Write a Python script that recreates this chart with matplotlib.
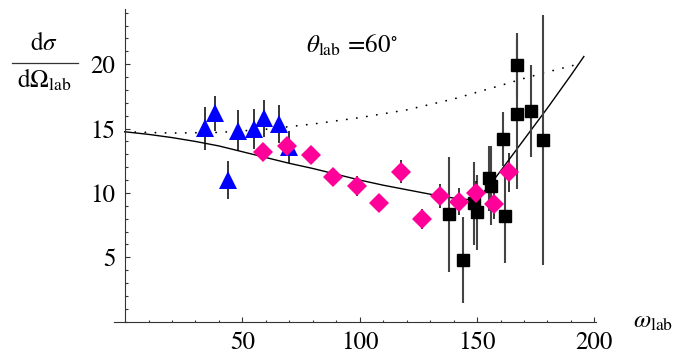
#!/usr/bin/python
# -*- encoding: utf-8 -*-
'''
Differential cross section at theta_lab = 60 deg, three data sets + two curves
'''

import numpy as np
import matplotlib
matplotlib.use('Agg')
import matplotlib.pyplot as plt
from matplotlib.lines import Line2D
from matplotlib.ticker import MultipleLocator, FixedLocator

#* Constants and settings
OUTPUT = 'out.png'
FIG_W, FIG_H = 678, 354
DPI = 100

X_RANGE = [-4.7, 200.5]
Y_RANGE = [0, 24.3]

#* Data
# full curve
omega_fit = [0, 10, 20, 30, 40, 50, 60, 70, 80, 90, 100, 110, 120, 130, 140,
             148, 152, 156, 160, 170, 180, 190, 195.5]
sigma_fit = [14.75, 14.55, 14.3, 14.0, 13.65, 13.2, 12.75, 12.3, 11.9, 11.45,
             11.0, 10.6, 10.25, 9.9, 9.6, 9.45, 9.9, 10.75, 11.7, 14.15, 16.6,
             19.15, 20.6]

# dotted curve
omega_dot = [0, 20, 40, 60, 80, 100, 120, 140, 160, 170, 180, 193]
sigma_dot = [14.75, 14.65, 14.7, 14.95, 15.35, 15.85, 16.45, 17.3, 18.35,
             18.9, 19.4, 20.0]

# blue triangles
tri_omega = [34.1, 38.3, 44.0, 48.3, 54.9, 59.2, 65.8, 70.0]
tri_sigma = [15.02, 16.18, 11.0, 14.83, 14.94, 15.8, 15.35, 13.6]
tri_err = [1.65, 1.35, 1.5, 1.6, 1.55, 1.45, 1.5, 1.25]

# magenta diamonds
dia_omega = [58.9, 69.2, 79.1, 88.8, 98.7, 108.4, 117.5, 126.4, 134.4,
             142.3, 149.6, 157.2, 163.6]
dia_sigma = [13.15, 13.67, 12.95, 11.26, 10.56, 9.24, 11.65, 7.95, 9.76,
             9.32, 9.97, 9.11, 11.6]
dia_err = [0.5, 0.5, 0.6, 0.65, 0.78, 0.7, 0.9, 0.78, 0.97, 1.03, 0.97,
           1.1, 1.5]

# black squares
sq_omega = [138.0, 144.2, 148.8, 149.8, 155.1, 156.0, 160.9, 161.9, 166.9,
            166.9, 172.8, 178.0]
sq_sigma = [8.34, 4.79, 9.19, 8.49, 11.13, 10.56, 14.19, 8.23, 19.94, 16.13,
            16.37, 14.11]
sq_err = [4.47, 3.37, 3.2, 2.93, 2.55, 3.05, 2.1, 3.7, 2.46, 5.85, 3.57, 9.7]

x_ticks = [50, 100, 150, 200]
y_ticks = [5, 10, 15, 20]


def px(x, y):
    '''pixel position (from top left) -> figure fraction'''
    return x / FIG_W, 1 - y / FIG_H


#* Plotting
def plot_cross_section():
    plt.rc('font', family='STIXGeneral', size=18)
    plt.rc('mathtext', fontset='stix')

    fig = plt.figure(figsize=(FIG_W / DPI, FIG_H / DPI), dpi=DPI)
    left, top = px(114, 8.9)
    right, bottom = px(595.6, 321.6)
    ax = fig.add_axes([left, bottom, right - left, top - bottom])

    # Mathematica style axes crossing at the origin
    for side in ['top', 'right']:
        ax.spines[side].set_visible(False)
    ax.spines['left'].set_position(('data', 0))
    ax.spines['bottom'].set_position(('data', 0))
    for side in ['left', 'bottom']:
        ax.spines[side].set_linewidth(0.8)
        ax.spines[side].set_color('#333333')

    ax.set_xlim(X_RANGE)
    ax.set_ylim(Y_RANGE)

    ax.xaxis.set_major_locator(FixedLocator(x_ticks))
    ax.yaxis.set_major_locator(FixedLocator(y_ticks))
    ax.xaxis.set_minor_locator(MultipleLocator(10))
    ax.yaxis.set_minor_locator(MultipleLocator(1))
    ax.tick_params(which='both', direction='in', color='#333333', width=0.8)
    ax.tick_params(which='major', length=3.6, pad=7)
    ax.tick_params(which='minor', length=1.8)
    ax.tick_params(axis='x', labelsize=18)
    ax.tick_params(axis='y', labelsize=18)

    # curves
    ax.plot(omega_fit, sigma_fit, color='black', lw=1.0, zorder=1)
    ax.plot(omega_dot, sigma_dot, color='black', lw=1.3,
            linestyle=(0, (0.1, 5.5)), dash_capstyle='round', zorder=1)

    # data
    ax.errorbar(sq_omega, sq_sigma, yerr=sq_err, fmt='s', color='black',
                ms=8.4, ecolor='#444444', elinewidth=1.5, capsize=0,
                zorder=2)
    ax.errorbar(tri_omega, tri_sigma, yerr=tri_err, fmt='^', color='#0000FF',
                ms=13.5, mew=0, ecolor='black', elinewidth=1.1, capsize=0,
                zorder=3)
    ax.errorbar(dia_omega, dia_sigma, yerr=dia_err, fmt='D', color='#FF0099',
                ms=10.4, mew=0, ecolor='black', elinewidth=1.1, capsize=0,
                zorder=4)

    # labels
    fig.text(*px(44, 50), r'd$\sigma$', ha='center', va='baseline', size=18)
    fig.text(*px(44, 88), r'd$\Omega_{\rm lab}$', ha='center', va='baseline',
             size=18)
    x0, y0 = px(12, 63.3)
    x1, _ = px(78, 63.3)
    fig.add_artist(Line2D([x0, x1], [y0, y0], color='#333333', lw=0.9))

    fig.text(*px(306, 53), r'$\theta_{\rm lab}\,=\!60^{\circ}$', ha='left',
             va='baseline', size=18)
    fig.text(*px(633, 328), r'$\omega_{\rm lab}$', ha='left', va='baseline',
             size=18)

    fig.savefig(OUTPUT, dpi=DPI)
    return None


#* Main sequence
def main():
    plot_cross_section()
    print(f'Plot exported to {OUTPUT}')


if __name__ == '__main__':
    main()
